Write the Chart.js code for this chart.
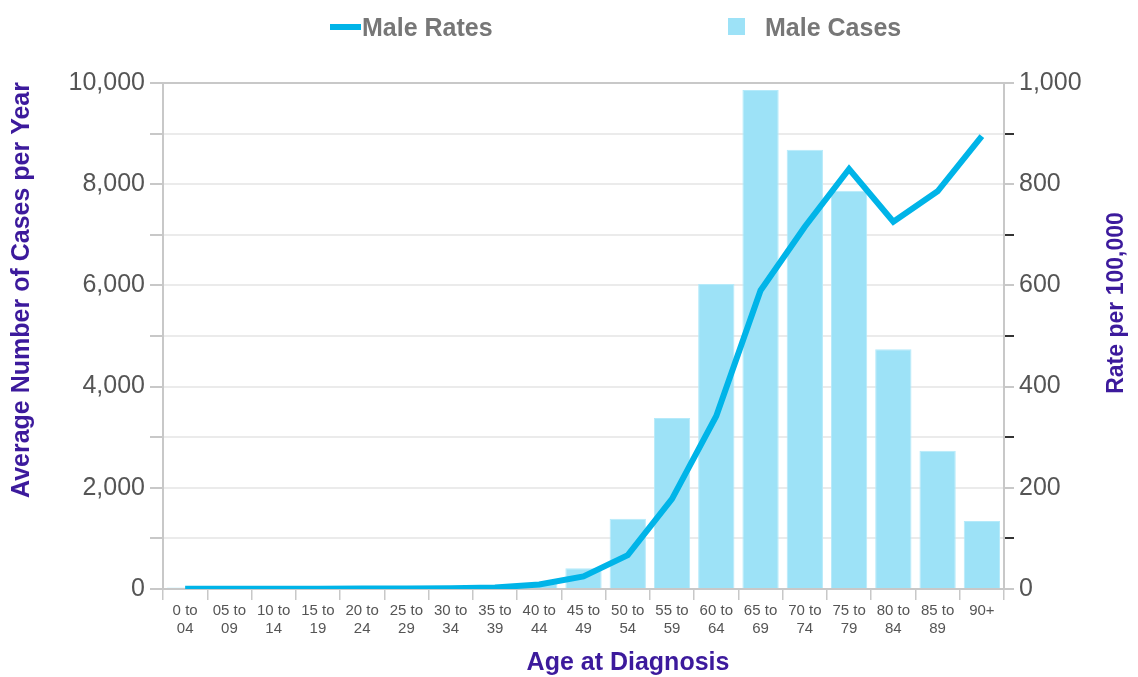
<!DOCTYPE html>
<html>
<head>
<meta charset="utf-8">
<script src="https://cdn.jsdelivr.net/npm/chart.js@4.4.1/dist/chart.umd.min.js"></script>
<style>
  body { margin: 0; background: #fff; }
  #wrap { position: relative; width: 1138px; height: 677px; font-family: 'Liberation Sans', Arial, sans-serif; }
  .lg { position: absolute; font-weight: bold; font-size: 25px; color: #777; line-height: 30px; top: 12px; }
  .mark { position: absolute; }
</style>
</head>
<body>
<div id="wrap">
  <canvas id="myChart" width="1138" height="677"></canvas>
  <div class="mark" style="left:330px;top:24px;width:31px;height:6px;background:#00b4e8;"></div>
  <div class="lg" style="left:362px;">Male Rates</div>
  <div class="mark" style="left:728px;top:18px;width:17px;height:17px;background:#9de2f7;"></div>
  <div class="lg" style="left:765px;">Male Cases</div>
</div>
<script>
const ageGroups = [['0 to', '04'], ['05 to', '09'], ['10 to', '14'], ['15 to', '19'], ['20 to', '24'],
    ['25 to', '29'], ['30 to', '34'], ['35 to', '39'], ['40 to', '44'], ['45 to', '49'],
    ['50 to', '54'], ['55 to', '59'], ['60 to', '64'], ['65 to', '69'], ['70 to', '74'],
    ['75 to', '79'], ['80 to', '84'], ['85 to', '89'], ['90+']];
const maleCases = [30, 10, 10, 10, 15, 20, 25, 40, 110, 410, 1390, 3380, 6030, 9860, 8680, 7870, 4740, 2730, 1345];
const maleRates = [0.5, 0.3, 0.4, 0.5, 0.8, 1, 1.5, 3, 9, 25, 67, 178, 342, 590, 716, 830, 726, 786, 895];

const purple = '#3c1a9c';
Chart.defaults.font.family = "'Liberation Sans', Arial, sans-serif";

// axis titles drawn by hand so they sit where the original has them
const axisTitles = {
    id: 'axisTitles',
    afterDraw(chart) {
        const c = chart.ctx;
        c.save();
        c.fillStyle = purple;
        c.font = 'bold 25px "Liberation Sans", Arial, sans-serif';
        c.textAlign = 'center';
        c.textBaseline = 'middle';
        c.fillText('Age at Diagnosis', 628, 663);
        c.translate(22, 290);
        c.rotate(-Math.PI / 2);
        c.fillText('Average Number of Cases per Year', 0, 0);
        c.restore();
        c.save();
        c.fillStyle = purple;
        c.font = 'bold 23px "Liberation Sans", Arial, sans-serif';
        c.textAlign = 'center';
        c.textBaseline = 'middle';
        c.translate(1117, 303);
        c.rotate(-Math.PI / 2);
        c.fillText('Rate per 100,000', 0, 0);
        c.restore();
    }
};

function renderChart() {
    const ctx = document.getElementById('myChart');

    new Chart(ctx, {
        data: {
            labels: ageGroups,
            datasets: [{
                type: 'line',
                label: 'Male Rates',
                data: maleRates,
                yAxisID: 'y1',
                borderColor: '#00b4e8',
                borderWidth: 6,
                pointRadius: 0,
                tension: 0,
                order: 0
            }, {
                type: 'bar',
                label: 'Male Cases',
                data: maleCases,
                yAxisID: 'y',
                backgroundColor: '#9de2f7',
                borderColor: '#b5eafa',
                borderWidth: 1,
                barPercentage: 0.82,
                categoryPercentage: 1,
                order: 1
            }]
        },
        options: {
            responsive: false,
            animation: false,
            layout: { padding: { top: 83, left: 0, right: 0, bottom: 0 } },
            plugins: {
                legend: { display: false },
                tooltip: { enabled: false }
            },
            scales: {
                x: {
                    grid: { drawOnChartArea: false, offset: true, tickLength: 11, tickColor: '#c8c8c8', lineWidth: 1.5 },
                    border: { color: '#c8c8c8', width: 2 },
                    ticks: { color: '#555', font: { size: 15 }, padding: 2, maxRotation: 0, autoSkip: false },
                    afterFit: (s) => { s.height = 88; }
                },
                y: {
                    position: 'left',
                    min: 0,
                    max: 10000,
                    grid: {
                        color: (c) => c.tick.value === 10000 ? '#c8c8c8' : '#ebebeb',
                        lineWidth: 2,
                        tickLength: 13,
                        tickColor: '#c8c8c8'
                    },
                    border: { color: '#c8c8c8', width: 2 },
                    ticks: {
                        stepSize: 1000,
                        autoSkip: false,
                        color: '#555',
                        font: { size: 25 },
                        padding: 5,
                        callback: (v) => v % 2000 === 0 ? v.toLocaleString('en-US') : ''
                    },
                    afterFit: (s) => { s.width = 163; }
                },
                y1: {
                    position: 'right',
                    min: 0,
                    max: 1000,
                    grid: {
                        drawOnChartArea: false,
                        tickLength: 10,
                        lineWidth: 2,
                        tickColor: (c) => c.tick.value % 200 === 0 ? '#c8c8c8' : '#333'
                    },
                    border: { color: '#c8c8c8', width: 2 },
                    ticks: {
                        stepSize: 100,
                        autoSkip: false,
                        color: '#555',
                        font: { size: 25 },
                        padding: 5,
                        callback: (v) => v % 200 === 0 ? v.toLocaleString('en-US') : ''
                    },
                    afterFit: (s) => { s.width = 134; }
                }
            }
        },
        plugins: [axisTitles]
    });
}

renderChart();
</script>
</body>
</html>
